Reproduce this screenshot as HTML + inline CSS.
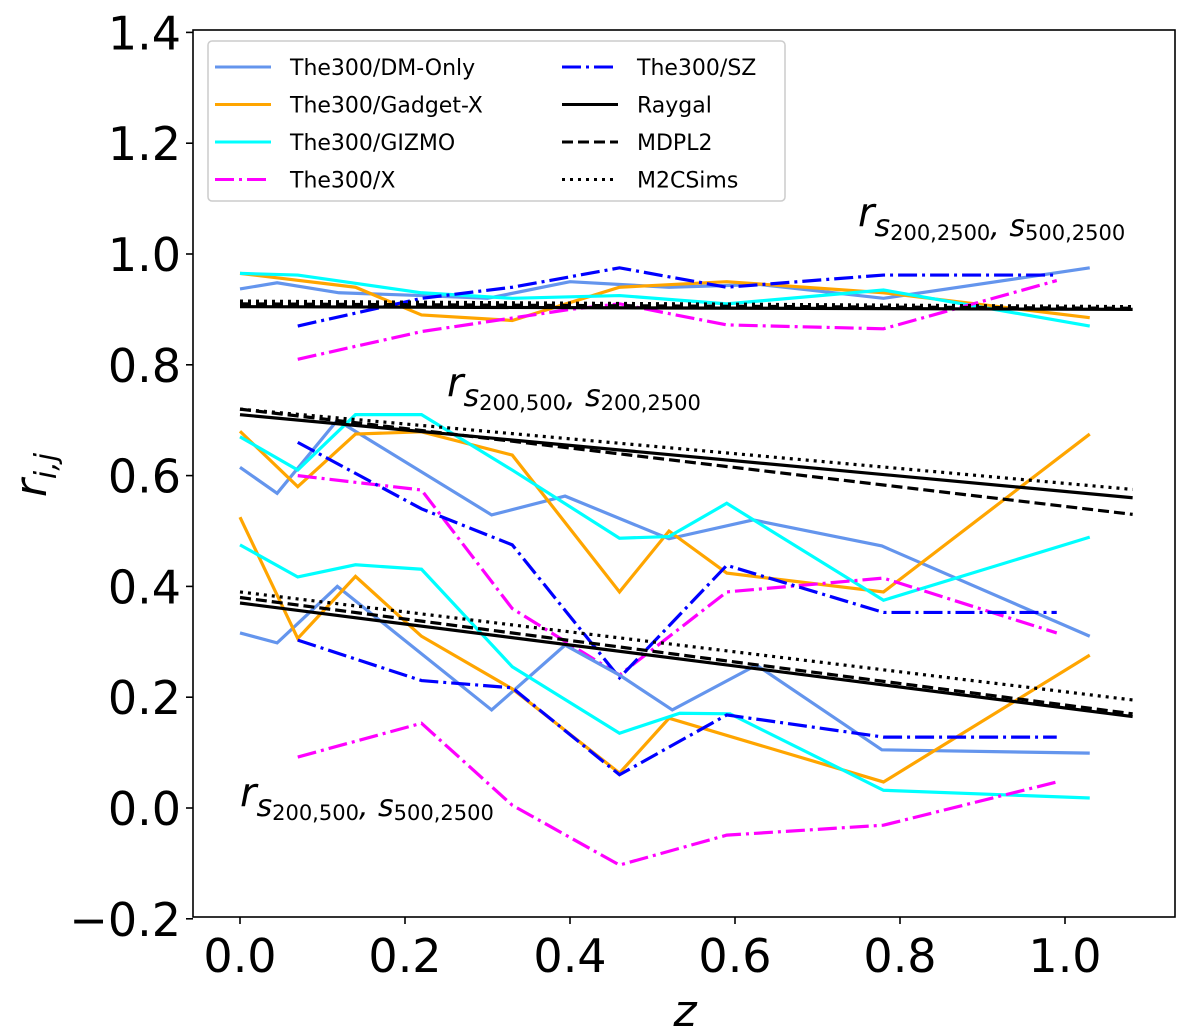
<!DOCTYPE html>
<html><head><meta charset="utf-8"><style>
body{margin:0;background:#fff;}
svg{display:block;font-family:"DejaVu Sans","Liberation Sans",sans-serif;}
</style></head><body>
<svg id="chart" width="1200" height="1034" viewBox="0 0 1200 1034" xmlns="http://www.w3.org/2000/svg">
<g id="series"></g>
<rect x="193" y="30" width="982" height="887" fill="none" stroke="#000" stroke-width="1.6"/>
<g id="ticks"></g>
<text transform="translate(46,475) rotate(-90)" font-size="44" text-anchor="middle" font-style="italic">r<tspan font-size="30" dy="10">i,j</tspan></text>
<text x="685" y="1026" font-size="44" text-anchor="middle" font-style="italic">z</text>
<text x="858" y="226" font-size="40" font-style="italic">r<tspan font-size="30" dy="10">s</tspan><tspan font-size="21" font-style="normal" dy="4">200,2500</tspan><tspan font-size="30" dy="-4">, s</tspan><tspan font-size="21" font-style="normal" dy="4">500,2500</tspan></text>
<text x="447" y="396" font-size="40" font-style="italic">r<tspan font-size="30" dy="10">s</tspan><tspan font-size="21" font-style="normal" dy="4">200,500</tspan><tspan font-size="30" dy="-4">, s</tspan><tspan font-size="21" font-style="normal" dy="4">200,2500</tspan></text>
<text x="240" y="806" font-size="40" font-style="italic">r<tspan font-size="30" dy="10">s</tspan><tspan font-size="21" font-style="normal" dy="4">200,500</tspan><tspan font-size="30" dy="-4">, s</tspan><tspan font-size="21" font-style="normal" dy="4">500,2500</tspan></text>
<g id="legend">
<rect x="208" y="41" width="577" height="160" rx="4" fill="#fff" fill-opacity="0.85" stroke="#ccc" stroke-width="1.5"/>
</g>
</svg>
<script>
const yTicks=[1.4,1.2,1.0,0.8,0.6,0.4,0.2,0.0,-0.2];
const xTicks=[0.0,0.2,0.4,0.6,0.8,1.0];
const dmTopZ=[0,0.045,0.12,0.22,0.30,0.40,0.52,0.63,0.78,1.03];
const dmTopV=[0.937,0.948,0.93,0.925,0.92,0.95,0.94,0.945,0.92,0.975];
const gxTopZ=[0,0.14,0.22,0.33,0.46,0.59,0.78,1.03];
const gxTopV=[0.965,0.94,0.89,0.88,0.94,0.95,0.93,0.885];
const gzTopZ=[0,0.07,0.22,0.33,0.46,0.59,0.78,1.03];
const gzTopV=[0.965,0.962,0.93,0.92,0.925,0.91,0.935,0.87];
const xTopZ=[0.07,0.22,0.40,0.46,0.59,0.78,0.99];
const xTopV=[0.81,0.86,0.90,0.91,0.872,0.865,0.952];
const szTopZ=[0.07,0.22,0.33,0.46,0.59,0.78,0.99];
const szTopV=[0.87,0.92,0.94,0.975,0.94,0.962,0.962];
const dmMidZ=[0,0.045,0.118,0.305,0.394,0.52,0.622,0.778,1.03];
const dmMidV=[0.615,0.568,0.70,0.529,0.563,0.486,0.52,0.473,0.31];
const gxMidZ=[0,0.07,0.14,0.22,0.33,0.46,0.52,0.59,0.78,1.03];
const gxMidV=[0.68,0.58,0.675,0.679,0.637,0.39,0.50,0.424,0.39,0.675];
const gzMidZ=[0,0.07,0.14,0.22,0.33,0.46,0.52,0.59,0.78,1.03];
const gzMidV=[0.67,0.61,0.71,0.71,0.61,0.487,0.49,0.55,0.375,0.489];
const xMidZ=[0.07,0.22,0.33,0.46,0.59,0.78,0.99];
const xMidV=[0.60,0.574,0.36,0.24,0.39,0.415,0.316];
const szMidZ=[0.07,0.22,0.33,0.46,0.59,0.78,0.99];
const szMidV=[0.66,0.54,0.475,0.235,0.438,0.353,0.353];
const dmBotZ=[0,0.045,0.118,0.305,0.394,0.46,0.524,0.626,0.778,1.03];
const dmBotV=[0.316,0.298,0.40,0.177,0.294,0.24,0.177,0.258,0.105,0.099];
const gxBotZ=[0,0.07,0.14,0.22,0.33,0.46,0.52,0.78,1.03];
const gxBotV=[0.525,0.306,0.418,0.31,0.215,0.063,0.162,0.047,0.276];
const gzBotZ=[0,0.07,0.14,0.22,0.33,0.46,0.533,0.594,0.78,1.03];
const gzBotV=[0.475,0.417,0.439,0.431,0.255,0.135,0.171,0.17,0.032,0.018];
const xBotZ=[0.07,0.22,0.33,0.46,0.59,0.78,0.99];
const xBotV=[0.092,0.153,0.005,-0.103,-0.049,-0.031,0.047];
const szBotZ=[0.07,0.22,0.33,0.46,0.59,0.78,0.99];
const szBotV=[0.303,0.23,0.217,0.06,0.168,0.128,0.128];
const fitZ=[0,1.082];
const raygalTop=[0.905,0.90];
const mdplTop=[0.91,0.902];
const m2cTop=[0.915,0.905];
const raygalMid=[0.71,0.56];
const mdplMid=[0.72,0.53];
const m2cMid=[0.72,0.575];
const raygalBot=[0.37,0.165];
const mdplBot=[0.38,0.17];
const m2cBot=[0.39,0.195];

const NS="http://www.w3.org/2000/svg";
function X(z){return 240+z*825;}
function Y(v){return 808-v*554;}
const styles={
 dm:{c:"#6495ED",d:""},gx:{c:"#FFA500",d:""},gz:{c:"#00FFFF",d:""},
 x:{c:"#FF00FF",d:"19 5 3 5"},sz:{c:"#0000FF",d:"19 5 3 5"},
 ray:{c:"#000",d:""},mdpl:{c:"#000",d:"11 5"},m2c:{c:"#000",d:"3 5"}
};
const g=document.getElementById('series');
function line(zs,vs,st,name){
 const p=document.createElementNS(NS,'polyline');
 p.setAttribute('points',zs.map((z,i)=>X(z)+','+Y(vs[i])).join(' '));
 p.setAttribute('fill','none');p.setAttribute('stroke',styles[st].c);
 p.setAttribute('stroke-width','3.2');
 if(styles[st].d)p.setAttribute('stroke-dasharray',styles[st].d);
 
 
 g.appendChild(p);
}
line(dmTopZ,dmTopV,'dm','dm-only-top');line(gxTopZ,gxTopV,'gx','gadgetx-top');line(gzTopZ,gzTopV,'gz','gizmo-top');line(xTopZ,xTopV,'x','the300x-top');line(szTopZ,szTopV,'sz','sz-top');
line(dmMidZ,dmMidV,'dm','dm-only-middle');line(gxMidZ,gxMidV,'gx','gadgetx-middle');line(gzMidZ,gzMidV,'gz','gizmo-middle');line(xMidZ,xMidV,'x','the300x-middle');line(szMidZ,szMidV,'sz','sz-middle');
line(dmBotZ,dmBotV,'dm','dm-only-bottom');line(gxBotZ,gxBotV,'gx','gadgetx-bottom');line(gzBotZ,gzBotV,'gz','gizmo-bottom');line(xBotZ,xBotV,'x','the300x-bottom');line(szBotZ,szBotV,'sz','sz-bottom');
line(fitZ,raygalTop,'ray','raygal-top');line(fitZ,mdplTop,'mdpl','mdpl2-top');line(fitZ,m2cTop,'m2c','m2csims-top');
line(fitZ,raygalMid,'ray','raygal-middle');line(fitZ,mdplMid,'mdpl','mdpl2-middle');line(fitZ,m2cMid,'m2c','m2csims-middle');
line(fitZ,raygalBot,'ray','raygal-bottom');line(fitZ,mdplBot,'mdpl','mdpl2-bottom');line(fitZ,m2cBot,'m2c','m2csims-bottom');

const t=document.getElementById('ticks');
yTicks.forEach(v=>{
 const l=document.createElementNS(NS,'line');
 l.setAttribute('x1',186);l.setAttribute('x2',193);l.setAttribute('y1',Y(v));l.setAttribute('y2',Y(v));l.setAttribute('stroke','#000');l.setAttribute('stroke-width','1.6');
 
 
 t.appendChild(l);
 const tx=document.createElementNS(NS,'text');
 tx.setAttribute('x',181);tx.setAttribute('y',Y(v)+17);tx.setAttribute('text-anchor','end');tx.setAttribute('font-size','46');
 tx.textContent=(v<0?'\u2212':'')+Math.abs(v).toFixed(1);
 
 
 t.appendChild(tx);
});
xTicks.forEach(z=>{
 const l=document.createElementNS(NS,'line');
 l.setAttribute('x1',X(z));l.setAttribute('x2',X(z));l.setAttribute('y1',917);l.setAttribute('y2',924);l.setAttribute('stroke','#000');l.setAttribute('stroke-width','1.6');
 
 
 t.appendChild(l);
 const tx=document.createElementNS(NS,'text');
 tx.setAttribute('x',X(z));tx.setAttribute('y',972);tx.setAttribute('text-anchor','middle');tx.setAttribute('font-size','46');
 tx.textContent=z.toFixed(1);
 
 
 t.appendChild(tx);
});
const legLabels=["The300/DM-Only","The300/Gadget-X","The300/GIZMO","The300/X","The300/SZ","Raygal","MDPL2","M2CSims"];
const legKeys=['dm','gx','gz','x','sz','ray','mdpl','m2c'];
const lg=document.getElementById('legend');
legLabels.forEach((lab,i)=>{
 const col=i<4?0:1,row=i%4;
 const x0=col?562:215,y0=67+row*37.5;
 const l=document.createElementNS(NS,'line');
 l.setAttribute('x1',x0);l.setAttribute('x2',x0+56);l.setAttribute('y1',y0);l.setAttribute('y2',y0);
 l.setAttribute('stroke',styles[legKeys[i]].c);l.setAttribute('stroke-width','3');
 if(styles[legKeys[i]].d)l.setAttribute('stroke-dasharray',styles[legKeys[i]].d);
 
 
 lg.appendChild(l);
 const tx=document.createElementNS(NS,'text');
 tx.setAttribute('x',x0+75);tx.setAttribute('y',y0+8);tx.setAttribute('font-size','22');
 tx.textContent=lab;
 
 
 lg.appendChild(tx);
});
</script>
</body></html>
